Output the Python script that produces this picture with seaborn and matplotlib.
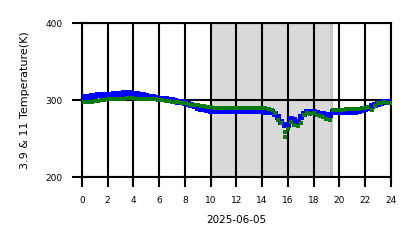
import numpy as np
import pandas as pd
import matplotlib
matplotlib.use("Agg")
import matplotlib.pyplot as plt
import seaborn as sns

# 3.9 um brightness temperature (K), every 15 minutes from 00:00 to 24:00
bt39 = [303, 304, 304, 305, 305, 306, 306, 307, 307, 307, 308, 308, 308, 309, 308, 309,
        308, 308, 307, 307, 305, 304, 304, 303, 302, 302, 301, 300, 300, 299, 298, 297,
        296, 295, 293, 292, 290, 289, 288, 287, 286,
        286, 286, 286, 286, 286, 286, 286, 286, 286, 286, 286, 286, 286, 286, 286, 286,
        285, 285, 284, 282, 278, 272, 268, 267, 276, 274, 272, 278, 282, 284, 285, 284,
        283, 282, 282, 281, 281, 284, 286, 285, 285, 285, 285, 284, 285, 286, 287, 288,
        290, 292, 293, 295, 296, 297, 297, 297]

# 11 um brightness temperature (K), every 15 minutes from 00:00 to 24:00
bt11 = [297, 297, 298, 298, 299, 299, 300, 300, 301, 301, 301, 302, 302, 302, 303, 303,
        303, 302, 302, 302, 302, 301, 301, 301, 300, 300, 299, 299, 298, 297, 297, 296,
        296, 295, 294, 294, 293, 292, 292, 291, 291,
        290, 290, 290, 290, 290, 290, 290, 290, 290, 290, 290, 290, 290, 290, 290, 290,
        290, 289, 287, 283, 274, 270, 259, 262, 272, 268, 266, 270, 280, 283, 282, 283,
        280, 279, 278, 276, 274, 287, 287, 287, 287, 288, 288, 288, 289, 289, 290, 290,
        291, 287, 292, 296, 296, 297, 296, 296]

# isolated 11 um outlier
out_hour = [15.8]
out_bt11 = [252]

hours = np.linspace(0, 24, len(bt39))
df39 = pd.DataFrame({"hour": hours, "bt": bt39})
df11 = pd.DataFrame({"hour": np.concatenate([hours, out_hour]),
                     "bt": np.concatenate([bt11, out_bt11])})

xticks = list(range(0, 25, 2))
yticks = [200, 300, 400]

fig = plt.figure(figsize=(4.18, 2.48), dpi=100)
ax = fig.add_axes([0.196, 0.286, 0.739, 0.621])

ax.axvspan(10, 19.5, color="#d9d9d9", lw=0, zorder=0)
ax.axvspan(19.3, 19.5, color="#c9c9c9", lw=0, zorder=0)

sns.scatterplot(data=df39, x="hour", y="bt", ax=ax, color="#0000ff", marker="s",
                s=14, linewidth=0, zorder=3)
sns.scatterplot(data=df11, x="hour", y="bt", ax=ax, color="#0a7a0a", marker="s",
                s=12, linewidth=0, zorder=4)

ax.set_xlim(0, 24)
ax.set_ylim(200, 400)
ax.set_xticks(xticks)
ax.set_xticklabels([str(t) for t in xticks])
ax.set_yticks(yticks)
ax.set_yticklabels([str(t) for t in yticks])
ax.grid(True, color="black", lw=1.5, zorder=2)
ax.set_axisbelow(False)
for sp in ax.spines.values():
    sp.set_color("black")
    sp.set_linewidth(1.5)
ax.tick_params(axis="both", length=7.2, width=1.5, labelsize=6.5, color="black")
ax.tick_params(axis="x", pad=6.5)
ax.tick_params(axis="y", pad=7)
ax.set_xlabel("2025-06-05", fontsize=7.5, labelpad=7)
ax.set_ylabel("3.9 & 11 Temperature(K)", fontsize=8, labelpad=11)

fig.savefig("out.png", dpi=100)
